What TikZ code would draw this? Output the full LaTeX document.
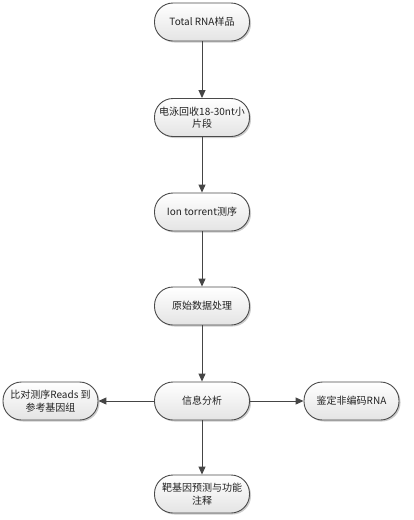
\documentclass[tikz,border=0pt]{standalone}
\usepackage{fontspec}
\setmainfont{Noto Sans CJK SC}
\usetikzlibrary{arrows.meta,shadows}
\definecolor{boxborder}{HTML}{4A4A4A}
\definecolor{boxbottom}{HTML}{E4E4E4}
\definecolor{arrowc}{HTML}{454545}
\definecolor{txt}{HTML}{222222}
\tikzset{
  flowbox/.style={draw=boxborder, line width=0.9pt, rounded corners=18.5pt,
    minimum width=95pt, minimum height=38pt, top color=white, bottom color=boxbottom,
    drop shadow={shadow xshift=1.5pt, shadow yshift=-1.5pt, fill=black!40, opacity=0.5},
    align=center, font=\fontsize{10}{12.5}\selectfont, text=txt, inner sep=0pt},
  flowarrow/.style={draw=arrowc, line width=1pt, -{Triangle[length=8pt,width=7pt]}}
}
\begin{document}
\begin{tikzpicture}[x=1pt,y=-1pt]
\useasboundingbox (0,0) rectangle (414,520);
\node[flowbox] (n1) at (202,22) {Total RNA样品};
\node[flowbox] (n2) at (202,117.5) {电泳回收18-30nt小\\片段};
\node[flowbox] (n3) at (202,212) {Ion torrent测序};
\node[flowbox] (n4) at (202,306) {原始数据处理};
\node[flowbox] (n5) at (202,401) {信息分析};
\node[flowbox] (nl) at (50.5,401) {比对测序Reads 到\\参考基因组};
\node[flowbox] (nr) at (351.5,401) {鉴定非编码RNA};
\node[flowbox] (n6) at (202,494) {靶基因预测与功能\\注释};
\draw[flowarrow] (n1) -- (n2);
\draw[flowarrow] (n2) -- (n3);
\draw[flowarrow] (n3) -- (n4);
\draw[flowarrow] (n4) -- (n5);
\draw[flowarrow] (n5) -- (nl);
\draw[flowarrow] (n5) -- (nr);
\draw[flowarrow] (n5) -- (n6);
\end{tikzpicture}
\end{document}
